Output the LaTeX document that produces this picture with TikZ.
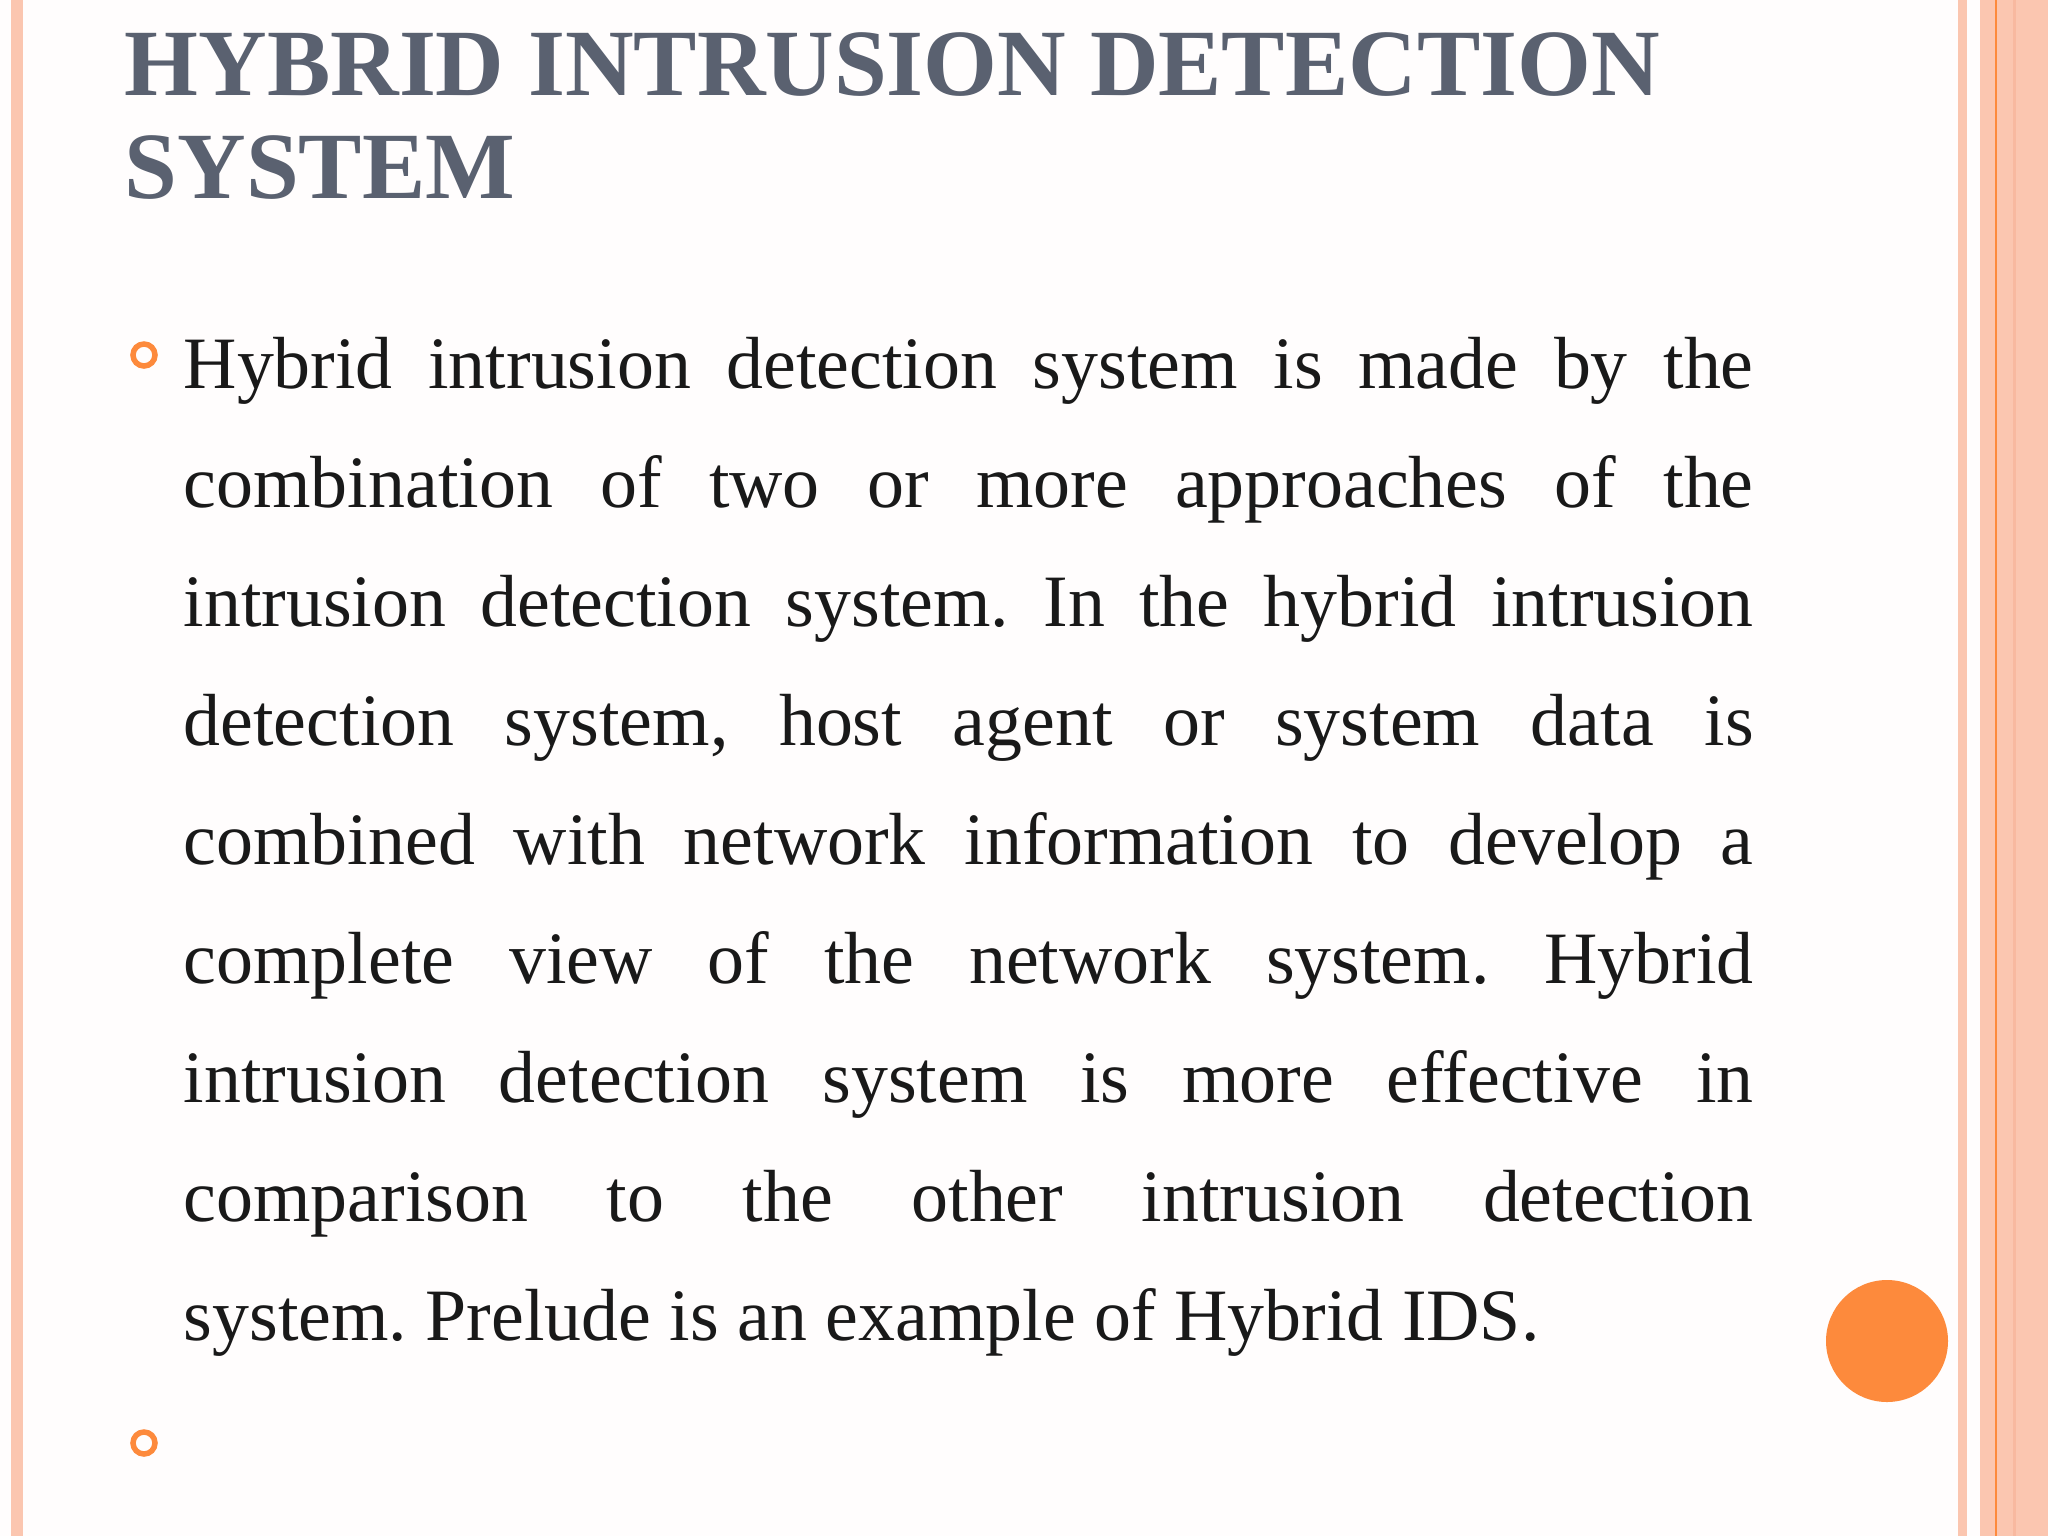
\documentclass[tikz,border=0pt]{standalone}
\usepackage{fontspec}
\setmainfont{Liberation Serif}
\frenchspacing
\definecolor{pinkst}{HTML}{FBC6B0}
\definecolor{pinkst2}{HTML}{F8B9A0}
\definecolor{orng}{HTML}{FD8A3C}
\definecolor{titlec}{HTML}{5A6170}
\begin{document}
\begin{tikzpicture}[x=0.01cm,y=-0.01cm,
  body/.style={anchor=base west,inner sep=0pt,font=\fontsize{21}{24}\selectfont,text=black!90},
  ttl/.style={anchor=base west,inner sep=0pt,font=\fontsize{27}{32}\selectfont\bfseries,text=titlec},
  bul/.style={draw=orng,line width=0.055cm}]
\fill[white!97!pinkst] (0,0) rectangle (2048,1536);
\useasboundingbox (0,0) rectangle (2048,1536);
\fill[pinkst] (11,0) rectangle (23,1536);
\fill[pinkst] (1958,0) rectangle (1967,1536);
\fill[pinkst] (1980,0) rectangle (2048,1536);
\fill[pinkst2] (2013,0) rectangle (2016,1536);
\fill[orng] (1995,0) rectangle (1997,1536);
\node[ttl] (t1) at (124,95) {HYBRID INTRUSION DETECTION};
\node[ttl] (t2) at (124,198) {SYSTEM};
\draw[bul] (144,355) circle (11);
\draw[bul] (144,1443) circle (11);
\fill[orng] (1887,1341) circle (61);
\foreach \i/\t in {
0/{Hybrid intrusion detection system is made by the},
1/{combination of two or more approaches of the},
2/{intrusion detection system. In the hybrid intrusion},
3/{detection system, host agent or system data is},
4/{combined with network information to develop a},
5/{complete view of the network system. Hybrid},
6/{intrusion detection system is more effective in},
7/{comparison to the other intrusion detection}}
  \node[body] (l\i) at (183,388+119*\i) {\makebox[15.69cm][s]{\t}};
\node[body] (l8) at (183,1340) {system. Prelude is an example of Hybrid IDS.};
\end{tikzpicture}
\end{document}
